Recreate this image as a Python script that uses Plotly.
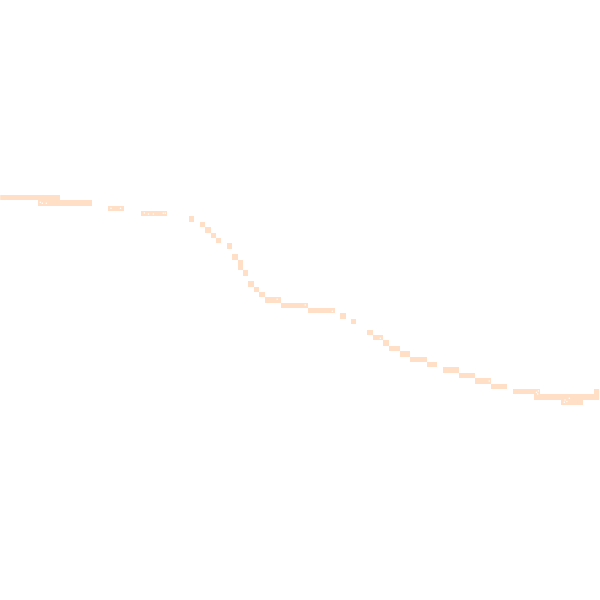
import plotly.graph_objects as go

# grid size (cells per side)
n_cells = 111

# filled cells: row index, first column, last column
rows = [36, 37, 38, 39, 40, 41, 42, 43, 44, 45, 47, 48, 49, 50, 52, 53, 54, 55, 56, 57,
        58, 59, 61, 62, 63, 64, 65, 66, 67, 68, 69, 70, 71, 72, 72, 73, 74]
col_start = [0, 7, 20, 26, 35, 37, 38, 39, 40, 42, 43, 44, 44, 45, 46, 47, 48, 49, 52, 57,
             63, 65, 68, 69, 71, 72, 74, 76, 79, 82, 85, 88, 91, 95, 110, 99, 104]
col_end = [10, 16, 22, 30, 35, 37, 38, 39, 40, 42, 43, 44, 44, 45, 46, 47, 48, 51, 56, 61,
           63, 65, 68, 70, 71, 73, 75, 78, 80, 84, 87, 90, 93, 99, 110, 110, 107]

# small white points
dot_x = [6.93, 7.30, 8.04, 20.02, 21.78, 26.19, 26.96, 27.85, 29.70, 30.07, 50.78, 55.99,
         61.00, 69.89, 90.07, 98.81, 99.15, 99.04, 104.89, 103.96, 104.44, 104.09]
dot_y = [36.87, 37.05, 37.05, 37.98, 37.98, 38.85, 39.04, 39.04, 38.91, 38.91, 54.83, 55.89,
         57.06, 62.06, 69.96, 72.04, 71.81, 72.37, 73.15, 73.91, 73.74, 73.48]

z = [[None] * n_cells for _ in range(n_cells)]
for r, c0, c1 in zip(rows, col_start, col_end):
    for c in range(c0, c1 + 1):
        z[r][c] = 1

fig = go.Figure()
fig.add_trace(go.Heatmap(z=z, x=list(range(n_cells)), y=list(range(n_cells)),
                         colorscale=[[0, "#FFE0C6"], [1, "#FFE0C6"]],
                         showscale=False, hoverinfo="skip"))
fig.add_trace(go.Scatter(x=dot_x, y=dot_y, mode="markers",
                         marker=dict(size=1.5, color="white"), showlegend=False))

fig.update_xaxes(range=[-0.537, 110.574], visible=False)
fig.update_yaxes(range=[110.52, -0.593], visible=False)
fig.update_layout(width=600, height=600, margin=dict(l=0, r=0, t=0, b=0),
                  paper_bgcolor="white", plot_bgcolor="white")
# drop the default page margin so the figure sits flush in the window
fig.write_html("out.html", config={"displayModeBar": False},
               post_script="document.body.style.margin = '0';")
